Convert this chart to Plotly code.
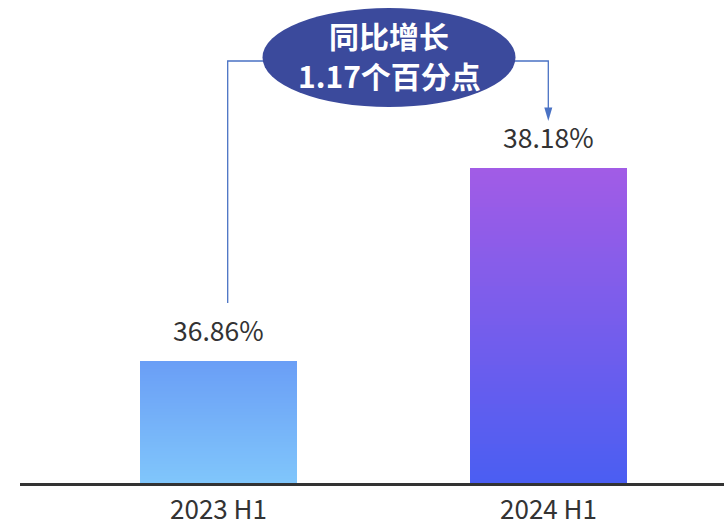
import plotly.graph_objects as go

# ---- data ----
categories = ["2023 H1", "2024 H1"]
values = [36.86, 38.18]
value_labels = ["36.86%", "38.18%"]
callout_lines = ["同比增长", "1.17个百分点"]

# ---- style ----
W, H = 724, 521
ML, MR, MT, MB = 20, 0, 0, 38
PW, PH = W - ML - MR, H - MT - MB
Y_MIN, Y_MAX = 36.027, 39.326
X_MIN, X_MAX = -0.6015, 1.5318
BAR_W = 0.476
grad_top = [(106, 158, 246), (162, 92, 230)]
grad_bot = [(128, 198, 251), (74, 94, 242)]
LINE_C = "#4a72c4"
ELL_C = "#3b4a9c"
FONT = "Noto Sans CJK SC, Noto Sans, sans-serif"
N_SEG = 80


def px_x(p):
    return (p - ML) / PW


def px_y(p):
    return (MT + PH - p) / PH


def lerp(c0, c1, t):
    return "rgb(%d,%d,%d)" % tuple(round(a + (b - a) * t) for a, b in zip(c0, c1))


fig = go.Figure()

# gradient bars: each bar split into thin stacked slices
xs, bases, heights, colors = [], [], [], []
for i, v in enumerate(values):
    step = (v - Y_MIN) / N_SEG
    for k in range(N_SEG):
        xs.append(i)
        bases.append(Y_MIN + k * step)
        heights.append(step * (1.02 if k < N_SEG - 1 else 1.0))
        colors.append(lerp(grad_bot[i], grad_top[i], (k + 0.5) / N_SEG))

fig.add_trace(go.Bar(
    x=xs, y=heights, base=bases, width=BAR_W,
    marker=dict(color=colors, line=dict(width=0)),
    hoverinfo="skip", showlegend=False,
))

# value labels
for i, (v, t) in enumerate(zip(values, value_labels)):
    fig.add_annotation(x=i, y=v, xref="x", yref="y", text=t, showarrow=False,
                       yanchor="bottom", yshift=10,
                       font=dict(family=FONT, size=26.5, color="#333333"))

shapes = []
# ellipse callout
shapes.append(dict(type="circle", xref="paper", yref="paper",
                   x0=px_x(262.5), x1=px_x(515.5), y0=px_y(107), y1=px_y(8),
                   fillcolor=ELL_C, line=dict(width=0), layer="above"))
# connector lines
lx, rx, hy = 227.7, 548.3, 61
shapes.append(dict(type="path", xref="paper", yref="paper",
                   path="M %f,%f L %f,%f L %f,%f" % (px_x(lx), px_y(303), px_x(lx), px_y(hy), px_x(264), px_y(hy)),
                   line=dict(color=LINE_C, width=1.3), layer="below"))
shapes.append(dict(type="path", xref="paper", yref="paper",
                   path="M %f,%f L %f,%f L %f,%f" % (px_x(514), px_y(hy), px_x(rx), px_y(hy), px_x(rx), px_y(110)),
                   line=dict(color=LINE_C, width=1.3), layer="below"))
# arrow head
shapes.append(dict(type="path", xref="paper", yref="paper",
                   path="M %f,%f L %f,%f L %f,%f Z" % (px_x(rx - 4), px_y(107.5), px_x(rx + 4), px_y(107.5), px_x(rx), px_y(121)),
                   fillcolor=LINE_C, line=dict(width=0)))

for txt, cy in zip(callout_lines, [35, 75]):
    fig.add_annotation(x=px_x(389), y=px_y(cy), xref="paper", yref="paper", text="<b>%s</b>" % txt,
                       showarrow=False, xanchor="center", yanchor="middle",
                       font=dict(family=FONT, size=30, color="white"))

fig.update_layout(
    width=W, height=H,
    margin=dict(l=ML, r=MR, t=MT, b=MB, autoexpand=False),
    plot_bgcolor="white", paper_bgcolor="white",
    barmode="overlay", bargap=0,
    shapes=shapes,
    xaxis=dict(range=[X_MIN, X_MAX], tickvals=[0, 1], ticktext=categories,
               showgrid=False, zeroline=False, showline=True, linecolor="#333333", linewidth=2.5,
               ticks="", ticklabelstandoff=2, automargin=False,
               tickfont=dict(family=FONT, size=26, color="#333333")),
    yaxis=dict(range=[Y_MIN, Y_MAX], visible=False, showgrid=False, zeroline=False),
)

fig.write_html("out.html", config={"displayModeBar": False},
               post_script="document.body.style.margin='0';document.body.style.overflow='hidden';")
